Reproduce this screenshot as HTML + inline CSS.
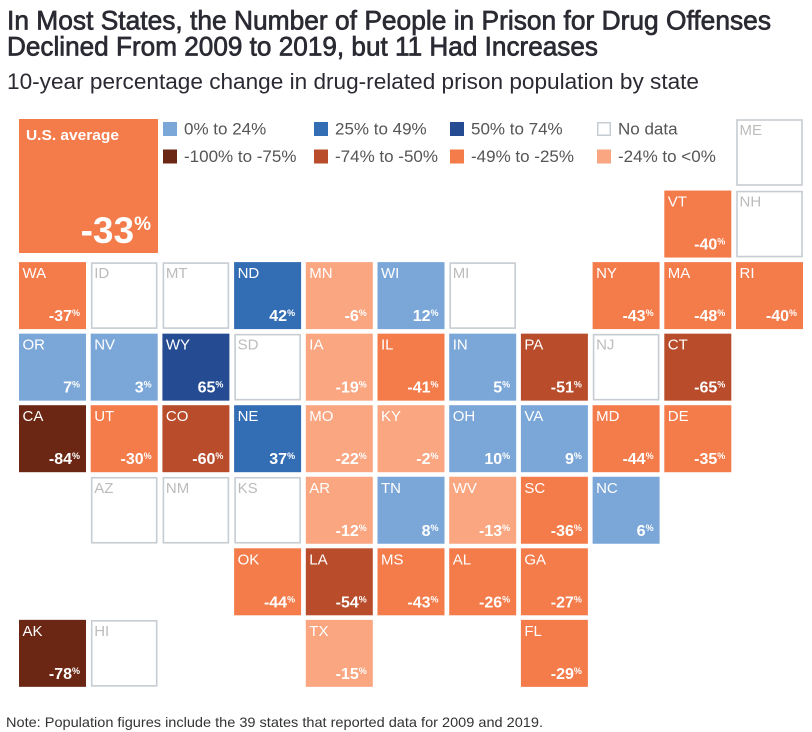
<!DOCTYPE html>
<html lang="en">
<head>
<meta charset="utf-8">
<title>Drug-related prison population change by state</title>
<style>
html,body{margin:0;padding:0;background:#fff;width:812px;height:732px;overflow:hidden}
svg{display:block;font-family:"Liberation Sans",sans-serif}
</style>
</head>
<body>
<svg id="chart" width="812" height="732" viewBox="0 0 812 732" xmlns="http://www.w3.org/2000/svg">
  <text x="7" y="29.5" font-size="26.5" fill="#2a2a33" stroke="#2a2a33" stroke-width="0.7" textLength="764" lengthAdjust="spacingAndGlyphs">In Most States, the Number of People in Prison for Drug Offenses</text>
  <text x="7" y="55.5" font-size="26.5" fill="#2a2a33" stroke="#2a2a33" stroke-width="0.7" textLength="591" lengthAdjust="spacingAndGlyphs">Declined From 2009 to 2019, but 11 Had Increases</text>
  <text x="7" y="89" font-size="22" fill="#2a2a33" textLength="692" lengthAdjust="spacingAndGlyphs">10-year percentage change in drug-related prison population by state</text>
  <g>
    <rect x="19" y="119" width="139" height="134" fill="#f47b4a"></rect>
    <text x="26" y="140" font-size="15" font-weight="700" fill="#fff" textLength="93" lengthAdjust="spacingAndGlyphs">U.S. average</text>
    <text x="151" y="243" text-anchor="end" font-size="37" font-weight="700" fill="#fff">-33<tspan font-size="19" dy="-13">%</tspan></text>
  </g>
  <g id="legend"></g>
  <g id="tiles"></g>
  <text x="6" y="727" font-size="14" fill="#333" textLength="537" lengthAdjust="spacingAndGlyphs">Note: Population figures include the 39 states that reported data for 2009 and 2019.</text>
</svg>
<script>
// Tile-map layout: each row lists the states by column; "" is an empty cell.
const tileRows = [
  ["","","","","","","","","","","ME"],
  ["","","","","","","","","","VT","NH"],
  ["WA","ID","MT","ND","MN","WI","MI","","NY","MA","RI"],
  ["OR","NV","WY","SD","IA","IL","IN","PA","NJ","CT",""],
  ["CA","UT","CO","NE","MO","KY","OH","VA","MD","DE",""],
  ["","AZ","NM","KS","AR","TN","WV","SC","NC","",""],
  ["","","","OK","LA","MS","AL","GA","","",""],
  ["AK","HI","","","TX","","","FL","","",""]
];
// Percentage change by state; states absent from these arrays have no data.
const stateCodes = ["VT","WA","ND","MN","WI","NY","MA","RI","OR","NV","WY","IA","IL","IN","PA","CT","CA","UT","CO","NE","MO","KY","OH","VA","MD","DE","AR","TN","WV","SC","NC","OK","LA","MS","AL","GA","AK","TX","FL"];
const stateValues = [-40,-37,42,-6,12,-43,-48,-40,7,3,65,-19,-41,5,-51,-65,-84,-30,-60,37,-22,-2,10,9,-44,-35,-12,8,-13,-36,6,-44,-54,-43,-26,-27,-78,-15,-29];

const legendLabels = [
  ["0% to 24%","25% to 49%","50% to 74%","No data"],
  ["-100% to -75%","-74% to -50%","-49% to -25%","-24% to <0%"]
];
const legendKeys = [
  [12,37,62,null],
  [-87,-62,-37,-12]
];

const NS = "http://www.w3.org/2000/svg";
const colX = c => 19 + c * 71.7;
const rowY = r => 119 + r * 71.55;
const TILE = 67;
const legendColX = c => [163,314,450,597][c];
const legendRowY = r => 122 + r * 27.5;

function colorFor(v){
  if (v === null || v === undefined) return null;
  if (v >= 50) return "#254c93";
  if (v >= 25) return "#336eb5";
  if (v >= 0) return "#7ba7d8";
  if (v > -25) return "#f9a681";
  if (v > -50) return "#f47b4a";
  if (v > -75) return "#b84c2b";
  return "#6b2714";
}
function make(tag, attrs, parent){
  const el = document.createElementNS(NS, tag);
  for (const k in attrs) el.setAttribute(k, attrs[k]);
  parent.appendChild(el);
  return el;
}

const legend = document.getElementById("legend");
legendLabels.forEach((row, r) => row.forEach((label, c) => {
  const key = legendKeys[r][c];
  const color = colorFor(key);
  const x = legendColX(c), y = legendRowY(r);
  const sw = make("rect", color
    ? {x:x, y:y, width:14, height:14, fill:color}
    : {x:x+.75, y:y+.75, width:12.5, height:12.5, fill:"#fff", stroke:"#c6ccd2", "stroke-width":1.5}, legend);
  
  
  const t = make("text", {x:x+21, y:y+12.5, "font-size":17, fill:"#555"}, legend);
  t.textContent = label;
  
  
}));

const tiles = document.getElementById("tiles");
tileRows.forEach((row, r) => row.forEach((code, c) => {
  if (!code) return;
  const i = stateCodes.indexOf(code);
  const value = i >= 0 ? stateValues[i] : null;
  const color = colorFor(value);
  const x = colX(c), y = rowY(r);
  const g = make("g", {}, tiles);
  
  
  const rect = make("rect", color
    ? {x:x, y:y, width:TILE, height:TILE, fill:color}
    : {x:x+1, y:y+1, width:TILE-2, height:TILE-2, fill:"#fff", stroke:"#c6ccd2", "stroke-width":1.6}, g);
  
  
  const label = make("text", {x:x+3.5, y:y+16, "font-size":15, fill: color ? "#fff" : "#bcbcbc"}, g);
  label.textContent = code;
  
  
  if (value !== null) {
    const v = make("text", {x:x+TILE-6, y:y+59, "text-anchor":"end", "font-size":16, "font-weight":700, fill:"#fff"}, g);
    
    
    v.appendChild(document.createTextNode(String(value)));
    const pct = make("tspan", {"font-size":9, dy:-5}, v);
    pct.textContent = "%";
  }
}));
</script>
</body>
</html>
